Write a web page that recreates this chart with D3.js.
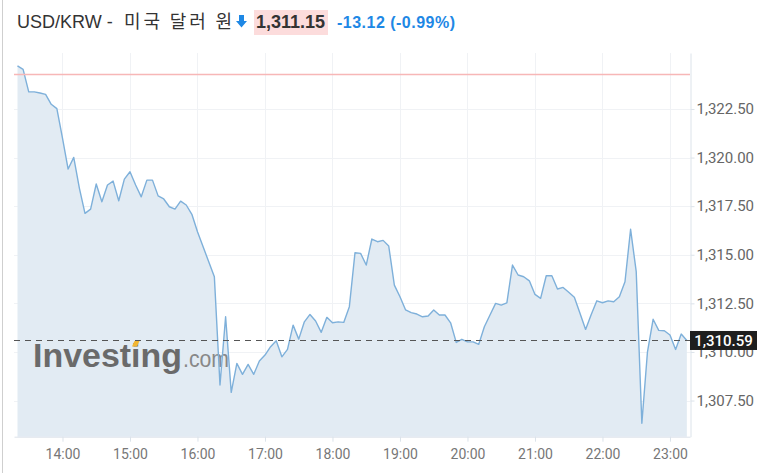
<!DOCTYPE html>
<html><head><meta charset="utf-8">
<script src="https://cdn.jsdelivr.net/npm/d3@7"></script>
<style>body{margin:0;background:#fff;} svg{display:block}</style>
</head><body><svg id="c" width="773" height="473"></svg>
<script>
const times = ["13:20","13:25","13:30","13:35","13:40","13:45","13:50","13:55",
"14:00","14:05","14:10","14:15","14:20","14:25","14:30","14:35","14:40","14:45","14:50","14:55",
"15:00","15:05","15:10","15:15","15:20","15:25","15:30","15:35","15:40","15:45","15:50","15:55",
"16:00","16:05","16:10","16:15","16:20","16:25","16:30","16:35","16:40","16:45","16:50","16:55",
"17:00","17:05","17:10","17:15","17:20","17:25","17:30","17:35","17:40","17:45","17:50","17:55",
"18:00","18:05","18:10","18:15","18:20","18:25","18:30","18:35","18:40","18:45","18:50","18:55",
"19:00","19:05","19:10","19:15","19:20","19:25","19:30","19:35","19:40","19:45","19:50","19:55",
"20:00","20:05","20:10","20:15","20:20","20:25","20:30","20:35","20:40","20:45","20:50","20:55",
"21:00","21:05","21:10","21:15","21:20","21:25","21:30","21:35","21:40","21:45","21:50","21:55",
"22:00","22:05","22:10","22:15","22:20","22:25","22:30","22:35","22:40","22:45","22:50","22:55",
"23:00","23:05","23:10","23:15"];
const rates = [1324.72,1324.54,1323.38,1323.38,1323.32,1323.25,1322.74,1322.52,
1321.00,1319.41,1320.01,1318.43,1317.13,1317.35,1318.64,1317.73,1318.59,1318.79,1317.78,1318.89,
1319.27,1318.59,1317.98,1318.84,1318.84,1318.03,1317.87,1317.47,1317.35,1317.76,1317.56,1317.08,
1316.18,1315.41,1314.64,1313.87,1308.30,1311.81,1307.92,1309.41,1308.85,1309.36,1308.85,1309.53,
1309.84,1310.27,1310.58,1309.75,1310.13,1311.38,1310.66,1311.55,1311.93,1311.59,1311.01,1311.78,
1311.50,1311.55,1311.52,1312.33,1315.10,1315.07,1314.47,1315.81,1315.67,1315.74,1315.45,1313.44,
1312.84,1312.16,1312.02,1311.95,1311.81,1311.85,1312.16,1311.90,1311.90,1311.50,1310.49,1310.65,
1310.52,1310.52,1310.39,1311.30,1311.90,1312.50,1312.41,1312.53,1314.47,1313.96,1313.87,1313.66,
1312.96,1312.76,1313.92,1313.92,1313.24,1313.32,1313.07,1312.81,1311.99,1311.16,1311.93,1312.63,
1312.53,1312.63,1312.58,1312.84,1313.61,1316.31,1314.13,1306.33,1310.01,1311.68,1311.11,1311.09,
1310.87,1310.13,1310.92,1310.59];
const xTickLabels = ["14:00","15:00","16:00","17:00","18:00","19:00","20:00","21:00","22:00","23:00"];
const yTickValues = [1307.5,1310,1312.5,1315,1317.5,1320,1322.5];
const prevClose = 1324.27;
const lastPrice = 1310.59;
const titleLatin = "USD/KRW - ";
const titleKorean = "미국 달러 원";
const headerPrice = "1,311.15";
const headerChange = "-13.12 (-0.99%)";
const xDomain = ["13:16.9","23:17.8"];
const yDomain = [1305.64, 1325.38];

const toMin = s => { const p = s.split(":").map(Number); return p[0]*60 + p[1]; };
const data = times.map((t,i)=>({t:toMin(t), v:rates[i]}));

const L = 14, R = 690, T = 53, B = 436.7;
const svg = d3.select("#c");
const x = d3.scaleLinear().domain(xDomain.map(toMin)).range([L, R]);
const y = d3.scaleLinear().domain(yDomain).range([B, T]);

// left page border
svg.append("line").attr("x1",2.5).attr("x2",2.5).attr("y1",0).attr("y2",473)
  .attr("stroke","#cfcfcf").attr("stroke-width",1);

// header
const hdr = svg.append("g").attr("font-family","'Liberation Sans', Arial, sans-serif");
hdr.append("text").attr("x",17).attr("y",28).attr("font-size",18).attr("fill","#333").text(titleLatin);
hdr.append("text").attr("x",124).attr("y",28).attr("font-size",18).attr("fill","#333")
  .attr("font-family","'Noto Sans CJK KR', sans-serif").attr("textLength",108).text(titleKorean);
hdr.append("path").attr("d","M239,15 h5 v6 h3 l-5.5,6.5 l-5.5,-6.5 h3 z").attr("fill","#1e88e5");
hdr.append("rect").attr("x",254).attr("y",10).attr("width",74).attr("height",25).attr("fill","#fcdcdc");
hdr.append("text").attr("x",256).attr("y",28).attr("font-size",18).attr("font-weight","bold")
  .attr("fill","#333").text(headerPrice);
hdr.append("text").attr("x",337).attr("y",28).attr("font-size",16).attr("font-weight","bold")
  .attr("fill","#1e88e5").attr("textLength",118).text(headerChange);

// grid
const grid = svg.append("g").attr("stroke","#f0f2f5").attr("stroke-width",1);
grid.selectAll(".h").data(yTickValues).join("line")
  .attr("x1",L).attr("x2",R).attr("y1",d=>Math.round(y(d))+0.5).attr("y2",d=>Math.round(y(d))+0.5);
grid.selectAll(".v").data(xTickLabels).join("line")
  .attr("x1",d=>Math.round(x(toMin(d)))+0.5).attr("x2",d=>Math.round(x(toMin(d)))+0.5)
  .attr("y1",T).attr("y2",B);

// area + line
const first = data[0].t, lastT = data[data.length-1].t;
svg.append("path").datum(data)
  .attr("d", d3.area().x(d=>x(d.t)).y0(B).y1(d=>y(d.v)))
  .attr("fill","#e2ebf3");

// watermark
const wm = svg.append("g").attr("font-family","'Liberation Sans', Arial, sans-serif");
wm.append("text").attr("x",33).attr("y",367).attr("font-size",33).attr("font-weight","bold")
  .attr("fill","#6a6a6a").attr("textLength",149).attr("lengthAdjust","spacingAndGlyphs").text("Investing");
wm.append("path").attr("d","M132,346.5 l2.5,-5.5 h5 l-2.5,5.5 z").attr("fill","#f2b632");
wm.append("text").attr("x",183).attr("y",367).attr("font-size",23)
  .attr("fill","#888").attr("textLength",46).attr("lengthAdjust","spacingAndGlyphs").text(".com");

svg.append("path").datum(data)
  .attr("d", d3.line().x(d=>x(d.t)).y(d=>y(d.v)))
  .attr("fill","none").attr("stroke","#7eb0da").attr("stroke-width",1.4).attr("stroke-linejoin","round");

// prev close line
svg.append("line").attr("x1",L).attr("x2",R).attr("y1",y(prevClose)).attr("y2",y(prevClose))
  .attr("stroke","#f7b7b7").attr("stroke-width",1.5);

// dashed last price line
svg.append("line").attr("x1",L).attr("x2",R).attr("y1",y(lastPrice)).attr("y2",y(lastPrice))
  .attr("stroke","#555").attr("stroke-width",1.2).attr("stroke-dasharray","6,5");

// x axis
const xa = svg.append("g").attr("transform",`translate(0,${B})`)
  .call(d3.axisBottom(x).tickValues(xTickLabels.map(toMin)).tickFormat((d,i)=>xTickLabels[i])
    .tickSize(5).tickSizeOuter(0).tickPadding(7));
xa.select(".domain").attr("stroke","#dce3ea");
xa.selectAll(".tick line").attr("stroke","#dce3ea");
xa.selectAll("text").attr("font-family","Roboto, sans-serif").attr("font-size",14).attr("fill","#777");

// y axis
const ya = svg.append("g").attr("transform",`translate(${R+0.5},0)`)
  .call(d3.axisRight(y).tickValues(yTickValues).tickFormat(d3.format(",.2f"))
    .tickSize(4).tickSizeOuter(0).tickPadding(2));
ya.select(".domain").attr("stroke","#dce3ea");
ya.selectAll(".tick line").attr("stroke","#dce3ea");
ya.selectAll("text").attr("font-family","Roboto, sans-serif").attr("font-size",15).attr("fill","#666");

// last price box
const by = y(lastPrice);
svg.append("rect").attr("x",R).attr("y",by-9.5).attr("width",67).attr("height",19).attr("fill","#1e1e1e");
svg.append("text").attr("x",R+33.5).attr("y",by+5.5).attr("text-anchor","middle")
  .attr("font-family","Roboto, sans-serif").attr("font-size",15).attr("font-weight",500)
  .attr("fill","#fff").text(d3.format(",.2f")(lastPrice));
</script></body></html>
